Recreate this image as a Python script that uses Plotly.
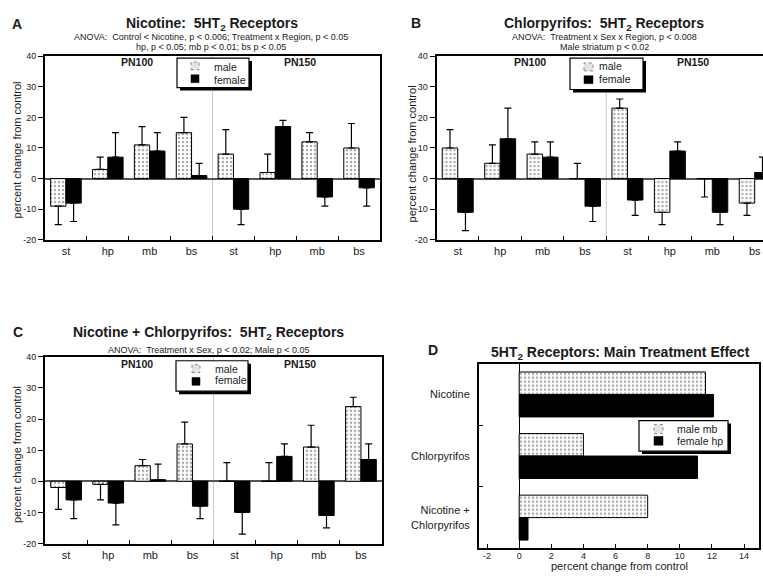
import plotly.graph_objects as go

W, H = 763, 577

# ---------------- data ----------------
regions = ["st", "hp", "mb", "bs", "st", "hp", "mb", "bs"]
y_ticks = [-20, -10, 0, 10, 20, 30, 40]
d_ticks = [-2, 0, 2, 4, 6, 8, 10, 12, 14]

# signed error extents: sign gives the direction of the one-sided error bar
A_male = [-9, 3, 11, 15, 8, 2, 12, 10]
A_male_err = [-6, 4, 6, 5, 8, 6, 3, 8]
A_female = [-8, 7, 9, 1, -10, 17, -6, -3]
A_female_err = [-6, 8, 6, 4, -5, 2, -3, -6]

B_male = [10, 5, 8, 0, 23, -11, 0, -8]
B_male_err = [6, 6, 4, 5, 3, -4, -6, -4]
B_female = [-11, 13, 7, -9, -7, 9, -11, 2]
B_female_err = [-6, 10, 5, -5, -5, 3, -4, 5]

C_male = [-2, -1, 5, 12, 0, 0, 11, 24]
C_male_err = [-7, -5, 2, 7, 6, 6, 7, 3]
C_female = [-6, -7, 0.5, -8, -10, 8, -11, 7]
C_female_err = [-6, -7, 5, -4, -7, 4, -4, 5]

D_treatments = ["Nicotine", "Chlorpyrifos", "Nicotine +<br>Chlorpyrifos"]
D_male_mb = [11.6, 4.0, 8.0]
D_female_hp = [12.1, 11.1, 0.55]

FONT = "Liberation Sans, Arial, Helvetica, sans-serif"
TXT = "#1a1a1a"


def fx(px):
    return px / W


def fy(py):
    return 1 - py / H


male_marker = dict(color="white",
                   pattern=dict(shape=".", fgcolor="#555", bgcolor="white", size=4, solidity=0.3),
                   line=dict(color="black", width=1))
female_marker = dict(color="black", line=dict(color="black", width=1))


def err(e):
    return dict(type="data", symmetric=False,
                array=[max(v, 0) for v in e],
                arrayminus=[max(-v, 0) for v in e],
                color="black", thickness=1.2, width=3.5)


fig = go.Figure()
idx = list(range(len(regions)))
panels = [
    ("x", "y", A_male, A_male_err, A_female, A_female_err),
    ("x2", "y2", B_male, B_male_err, B_female, B_female_err),
    ("x3", "y3", C_male, C_male_err, C_female, C_female_err),
]
for xa, ya, m, me, f, fe in panels:
    fig.add_trace(go.Bar(x=idx, y=m, name="male", marker=male_marker, error_y=err(me),
                         xaxis=xa, yaxis=ya, showlegend=False))
    fig.add_trace(go.Bar(x=idx, y=f, name="female", marker=female_marker, error_y=err(fe),
                         xaxis=xa, yaxis=ya, showlegend=False))

fig.add_trace(go.Bar(y=D_treatments, x=D_male_mb, orientation="h", name="male mb",
                     marker=male_marker, xaxis="x4", yaxis="y4", showlegend=False))
fig.add_trace(go.Bar(y=D_treatments, x=D_female_hp, orientation="h", name="female hp",
                     marker=female_marker, xaxis="x4", yaxis="y4", showlegend=False))


def xcat(domain, rng):
    return dict(domain=domain, range=rng, tickmode="array", tickvals=idx, ticktext=regions,
                ticks="", showline=True, linewidth=2, linecolor="black", mirror=True,
                showgrid=False, zeroline=False, tickfont=dict(size=11, color=TXT),
                ticklabelstandoff=0,
                minor=dict(tickmode="array", tickvals=[i + 0.5 for i in idx[:-1]], ticks="inside",
                           ticklen=4, tickwidth=1, tickcolor="black", showgrid=False))


def yval(domain, mirror, anchor):
    return dict(domain=domain, range=[-20, 40], tickmode="array", tickvals=y_ticks,
                ticktext=[str(v) for v in y_ticks], ticks="outside", ticklen=5,
                tickwidth=1, tickcolor="black", showline=True, linewidth=2, linecolor="black",
                mirror=mirror, showgrid=False, zeroline=True, zerolinecolor="#555",
                zerolinewidth=1.5, tickfont=dict(size=9, color=TXT), anchor=anchor)


yA = [fy(239), fy(52)]
yC = [fy(548), fy(358)]
b_right = -0.5 + (W - 436.5) / 42.43

fig.update_layout(
    width=W, height=H, margin=dict(l=0, r=0, t=0, b=0),
    paper_bgcolor="white", plot_bgcolor="white",
    font=dict(family=FONT, color=TXT),
    barmode="group", bargap=0.27, bargroupgap=0,
    xaxis=dict(**xcat([fx(45), fx(380)], [-0.5, 7.5]), anchor="y"),
    yaxis=yval(yA, True, "x"),
    xaxis2=dict(**xcat([fx(436.5), 1.0], [-0.5, b_right]), anchor="y2"),
    yaxis2=yval(yA, False, "x2"),
    xaxis3=dict(**xcat([fx(45), fx(382)], [-0.5, 7.5]), anchor="y3"),
    yaxis3=yval(yC, True, "x3"),
    xaxis4=dict(domain=[fx(479), fx(759)], range=[-2.5, 14.93], tickmode="array",
                tickvals=d_ticks, ticktext=[str(v) for v in d_ticks],
                ticks="inside", ticklen=4, tickwidth=1, tickcolor="black",
                showline=True, linewidth=2, linecolor="black", mirror=True, showgrid=False,
                zeroline=True, zerolinecolor="black", zerolinewidth=1,
                tickfont=dict(size=9, color=TXT), ticklabelstandoff=-2, anchor="y4"),
    yaxis4=dict(domain=[fy(553), fy(365)], range=[2.5, -0.5], type="category",
                tickson="boundaries", ticks="inside", ticklen=4, tickwidth=1, tickcolor="black",
                showline=True, linewidth=2, linecolor="black", mirror=True, showgrid=False,
                tickfont=dict(size=11, color=TXT), ticklabelstandoff=5, anchor="x4"),
)

shapes = []
# PN100 / PN150 separators
for xa, ya in [("x", "y"), ("x2", "y2"), ("x3", "y3")]:
    shapes.append(dict(type="line", xref=xa, yref=ya, x0=3.5, x1=3.5, y0=-20, y1=40,
                       line=dict(color="#c8c8c8", width=1), layer="below"))

ann = []


def legend(box, sw_x, sw_m, sw_f, tx, ty_m, ty_f, lab_m, lab_f, size):
    x0, y0, x1, y1 = box
    shapes.append(dict(type="rect", xref="paper", yref="paper", x0=fx(x0 + 3), x1=fx(x1 + 3),
                       y0=fy(y1 + 3), y1=fy(y0 + 3), fillcolor="black", line=dict(width=0),
                       layer="above"))
    shapes.append(dict(type="rect", xref="paper", yref="paper", x0=fx(x0), x1=fx(x1),
                       y0=fy(y1), y1=fy(y0), fillcolor="white",
                       line=dict(color="black", width=1.2), layer="above"))
    shapes.append(dict(type="rect", xref="paper", yref="paper", x0=fx(sw_x[0]), x1=fx(sw_x[1]),
                       y0=fy(sw_m[1]), y1=fy(sw_m[0]), fillcolor="#e4e4e4",
                       line=dict(color="#888", width=1, dash="dot"), layer="above"))
    shapes.append(dict(type="rect", xref="paper", yref="paper", x0=fx(sw_x[0]), x1=fx(sw_x[1]),
                       y0=fy(sw_f[1]), y1=fy(sw_f[0]), fillcolor="black",
                       line=dict(color="black", width=0.5), layer="above"))
    for t, yy in [(lab_m, ty_m), (lab_f, ty_f)]:
        ann.append(dict(text=t, x=fx(tx), y=fy(yy), xref="paper", yref="paper",
                        xanchor="left", yanchor="middle", showarrow=False,
                        font=dict(size=size, color=TXT)))


def text(t, x, y, size, bold=False, angle=0, xanchor="center"):
    ann.append(dict(text=("<b>%s</b>" % t) if bold else t, x=fx(x), y=fy(y),
                    xref="paper", yref="paper", xanchor=xanchor, yanchor="middle",
                    showarrow=False, textangle=angle, font=dict(size=size, color=TXT)))


NB = "\u00a0"
# panel letters
text("A", 17, 19, 14, True)
text("B", 416, 18, 14, True)
text("C", 18, 333, 14, True)
text("D", 433, 351, 14, True)
# titles
text("Nicotine:" + NB + " 5HT<sub>2</sub> Receptors", 212, 19, 14, True)
text("Chlorpyrifos:" + NB + " 5HT<sub>2</sub> Receptors", 604, 19, 14, True)
text("Nicotine + Chlorpyrifos:" + NB + " 5HT<sub>2</sub> Receptors", 208, 334, 14, True)
text("5HT<sub>2</sub> Receptors: Main Treatment Effect", 620, 354, 14, True)
# subtitles
text("ANOVA:" + NB + " Control &lt; Nicotine, p &lt; 0.006; Treatment x Region, p &lt; 0.05", 211, 33, 9)
text("hp, p &lt; 0.05; mb p &lt; 0.01; bs p &lt; 0.05", 211, 43, 9)
text("ANOVA:" + NB + " Treatment x Sex x Region, p &lt; 0.008", 604, 33, 9)
text("Male striatum p &lt; 0.02", 604, 43, 9)
text("ANOVA:" + NB + " Treatment x Sex, p &lt; 0.02; Male p &lt; 0.05", 208, 351, 9)
# PN labels
for xx, yy in [(137, 58), (530, 58), (137, 365)]:
    text("PN100", xx, yy, 10.5, True)
for xx, yy in [(300, 58), (693, 58), (300, 365)]:
    text("PN150", xx, yy, 10.5, True)
# axis titles
text("percent change from control", 17, 148, 11, angle=-90)
text("percent change from control", 412, 151, 11, angle=-90)
text("percent change from control", 17, 458, 11, angle=-90)
text("percent change from control", 619, 570.5, 11)

# legends
legend((177, 54, 249, 84), (191, 199), (58, 66), (71, 79), 212, 63, 76, "male", "female", 10.5)
legend((570, 54, 643, 86), (584, 593), (59, 67), (72, 80), 597, 62, 75, "male", "female", 10.5)
legend((176, 362, 248, 393), (192, 200), (366, 374), (379, 387), 213, 370, 382, "male", "female", 10.5)
legend((639, 423, 728, 454), (654, 663), (427, 436), (439, 448), 675, 431.5, 443.5, "male mb", "female hp", 10.5)

fig.update_layout(shapes=shapes, annotations=ann)
fig.write_html("out.html", config={"displayModeBar": False},
               post_script="document.body.style.margin='0';document.body.style.padding='0';")
